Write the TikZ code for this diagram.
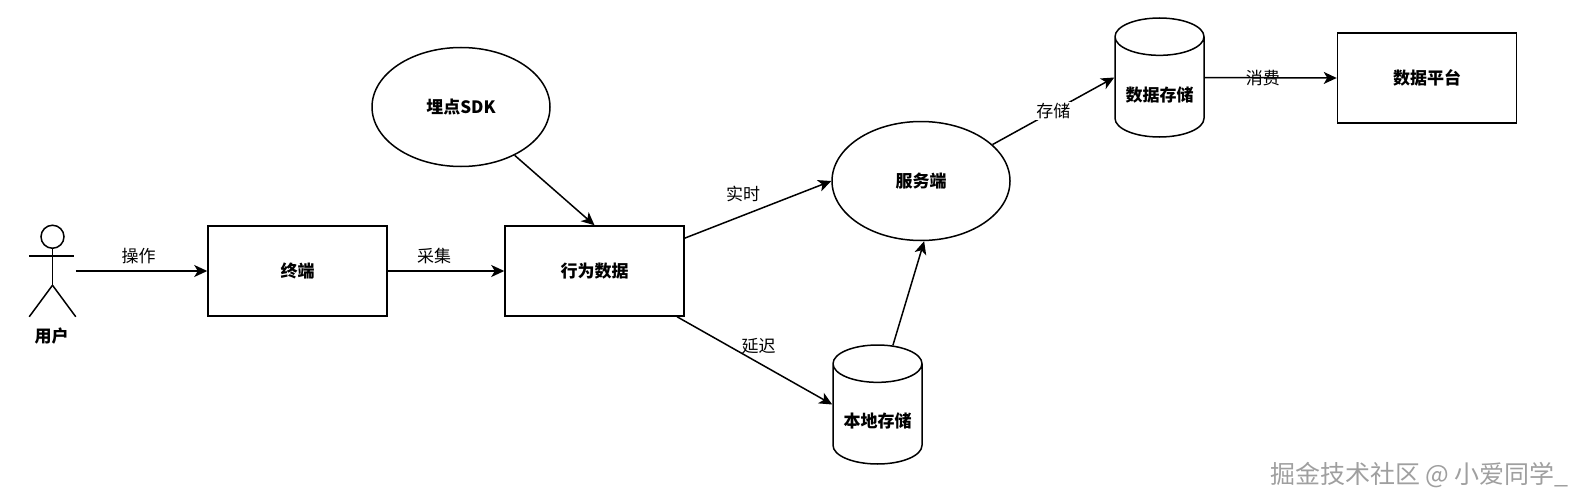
\documentclass[tikz,border=0pt]{standalone}
\usepackage{fontspec}
\setmainfont{Noto Sans CJK SC}
\usetikzlibrary{shapes.geometric,arrows.meta}

\begin{document}
\begin{tikzpicture}[x=1pt,y=-1pt,>={Stealth[length=13pt,width=12pt,inset=3.5pt]},line width=1.5pt,
  box/.style={draw, rectangle, minimum width=179pt, minimum height=90pt, font=\fontsize{17}{20}\selectfont\bfseries},
  oval/.style={draw, ellipse, minimum width=178pt, minimum height=119pt, font=\fontsize{17}{20}\selectfont\bfseries},
  store/.style={draw, cylinder, shape border rotate=90, shape aspect=0.5, anchor=shape center, minimum width=89pt, minimum height=119pt, font=\fontsize{17}{20}\selectfont\bfseries},
  lbl/.style={font=\fontsize{17}{20}\selectfont, inner sep=1pt}]
\useasboundingbox (0,0) rectangle (1585,503);

\node[minimum width=45pt, minimum height=90pt, inner sep=0pt] (user) at (52.5,271) {};
\node[font=\fontsize{17}{20}\selectfont\bfseries, inner sep=0pt] (username) at (51.5,336) {用户};
\node[box, right of=user, node distance=245pt] (terminal) {终端};
\node[box, right of=terminal, node distance=297pt] (behavior) {行为数据};
\node[oval] (sdk) at (461,107) {埋点SDK};
\node[oval] (server) at (921,181) {服务端};
\node[store] (localdb) at (877.5,404.5) {\raisebox{-4pt}[14pt][2pt]{本地存储}};
\node[store] (datadb) at (1159.5,77.5) {\raisebox{-5pt}[14pt][2pt]{数据存储}};
\node[box] (platform) at (1427,78) {数据平台};
\node[text=gray!75, font=\fontsize{25}{28}\selectfont, inner sep=0pt] (mark) at (1419.5,475) {掘金技术社区 @ 小爱同学\_};

% stick figure
\draw (user.north) ++(0,11.5) coordinate (head) circle (11.5);
\draw (user.north) ++(0,23) coordinate (neck) -- ++(0,37) coordinate (hip);
\draw (user.west) ++(0,-15) -- ++(45,0);
\draw (hip) -- (user.south west);
\draw (hip) -- (user.south east);

\draw[->] (user.east) -- node[lbl, above, xshift=-3pt, yshift=5pt] (operate) {操作} (terminal.west);
\draw[->] (terminal.east) -- node[lbl, above, xshift=-12pt, yshift=5pt] (collect) {采集} (behavior.west);
\draw[->] (sdk.-42) -- (behavior.north);
\draw[->] (behavior.20) -- node[lbl, xshift=-15pt, yshift=16pt] (realtime) {实时} (server.west);
\draw[->] (behavior.-29) -- node[lbl, xshift=4pt, yshift=14pt] (delay) {延迟} (localdb.shape center -| localdb.west);
\draw[->] (localdb.78) -- (server.-87);
\draw[->] (server.27) -- node[lbl, fill=white] (save) {存储} (datadb.shape center -| datadb.west);
\draw[->] (datadb.shape center -| datadb.east) -- node[lbl, xshift=-8pt] (consume) {消费} (platform.west);
\end{tikzpicture}
\end{document}
